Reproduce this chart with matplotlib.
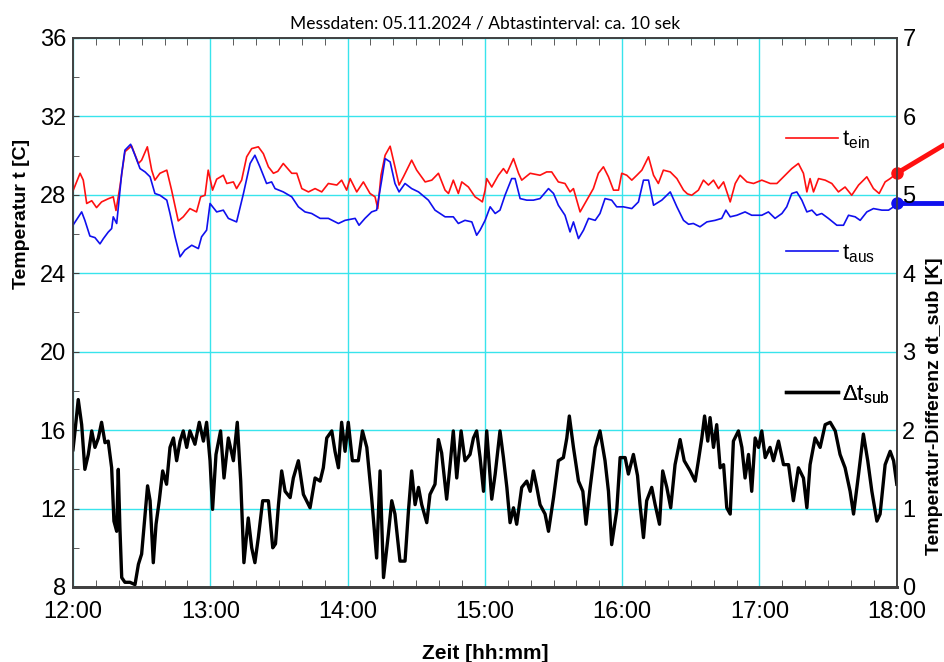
"""
Messdaten 05.11.2024: Vor- und Ruecklauftemperatur plus Temperaturdifferenz.
"""

import matplotlib.pyplot as plt
from matplotlib.ticker import FuncFormatter, MultipleLocator

# ===============================
# Data (minutes after 12:00)
# ===============================

t_ein_min = [
    0, 3.1, 4.5, 6, 8.2, 10.3, 12.5, 15.4, 17.6, 18.8, 20.5, 22.7, 25.6, 28.6, 30,
    32.5, 34.4, 35.8, 38, 41, 43.1, 46, 48.2, 51.1, 54, 55.8, 57.7, 59.1, 61, 62.8,
    65.7, 67.2, 70.1, 71.5, 73.7, 75.9, 78.1, 81, 83.2, 85.4, 87.6, 89.5, 91.9, 95.6,
    97.8, 100, 102.9, 105.8, 108.7, 111.6, 115.3, 117.4, 119.6, 121.1, 124, 126.9,
    129.8, 132, 133.2, 134.6, 136.4, 138.6, 140.7, 142.5, 144.4, 148, 150.2, 153.9,
    156.8, 159.7, 162.6, 164.1, 166.2, 168.4, 169.9, 172.8, 175.7, 177.9, 178.9,
    180.1, 180.8, 183, 185.9, 188.1, 189.6, 192.5, 194.7, 196.1, 199.8, 204.1, 207,
    209.2, 212.1, 215, 217.2, 218.7, 221.6, 224.5, 227.4, 229.6, 231.8, 234, 236.2,
    238.4, 239.8, 242, 244.2, 246.4, 248.6, 251.5, 253.7, 255.8, 258, 261, 263.9,
    266.8, 268.5, 270.4, 273.3, 275.5, 277.7, 279.9, 282.1, 284.3, 287.2, 289.4,
    291.5, 294.5, 297.4, 301, 304.7, 307.6, 311.2, 314.1, 317, 319.2, 320.7, 322.1,
    323.6, 325.8, 328.7, 331.6, 334.5, 337.4, 340.3, 343.3, 346.9, 349.8, 352.3,
    354.9, 357.1, 360,
]
t_ein = [
    28.2, 29.1, 28.75, 27.56, 27.7, 27.35, 27.64, 27.8, 27.9, 27.2, 28.4, 30.2, 30.5,
    29.6, 29.77, 30.45, 29.26, 28.75, 29.1, 29.26, 28.24, 26.67, 26.88, 27.3, 27.13,
    27.9, 27.98, 29.26, 28.24, 28.8, 29.0, 28.58, 28.66, 28.32, 28.75, 29.94, 30.36,
    30.45, 30.1, 29.43, 29.1, 29.2, 29.6, 29.1, 29.1, 28.32, 28.15, 28.32, 28.15,
    28.58, 28.5, 28.75, 28.24, 28.83, 28.15, 28.66, 28.07, 27.9, 27.3, 29.0, 30.02,
    30.48, 29.43, 28.5, 28.92, 29.77, 29.26, 28.66, 28.75, 29.1, 28.24, 28.07, 28.75,
    28.07, 28.66, 28.4, 27.9, 27.73, 27.64, 28.24, 28.83, 28.4, 29.0, 29.34, 29.1,
    29.85, 29.1, 28.75, 29.1, 29.0, 29.17, 29.17, 28.66, 28.58, 28.15, 28.32, 27.13,
    27.73, 28.32, 29.1, 29.43, 28.92, 28.24, 28.24, 29.1, 29.0, 28.75, 29.0, 29.26,
    29.94, 29.0, 28.58, 29.26, 29.17, 28.83, 28.24, 28.05, 27.98, 28.24, 28.75, 28.5,
    28.75, 28.32, 28.66, 27.64, 28.58, 29.0, 28.66, 28.58, 28.75, 28.58, 28.58, 29.0,
    29.34, 29.6, 29.1, 28.15, 28.83, 28.15, 28.83, 28.75, 28.58, 28.15, 28.4, 27.98,
    28.5, 28.92, 28.32, 28.07, 28.66, 28.83, 29.1,
]

t_aus_min = [
    0, 3.8, 5.2, 7.4, 9.6, 11.8, 13.3, 15.4, 16.9, 17.6, 19.1, 21.3, 22.7, 25.2, 27.1,
    29.3, 31.5, 33.7, 35.8, 38, 41, 42.4, 44.6, 46.8, 48.9, 51.9, 54.8, 56.2, 58.4,
    59.9, 62.8, 65.7, 67.9, 71.5, 74.5, 77.4, 79.5, 81.7, 84.6, 86.8, 88.3, 91.9,
    95.6, 98.5, 101.4, 104.3, 108, 111.6, 116, 118.9, 123.3, 125, 127.6, 130.5, 132.7,
    134.9, 136.4, 138.6, 140.7, 142.5, 145.1, 148, 151, 155.3, 158.2, 162.6, 166.2,
    168.4, 171.3, 174.3, 176.4, 177.9, 180.1, 182.3, 184.5, 186.6, 188.8, 191.7,
    193.2, 195.4, 198.3, 201.2, 204.1, 207.8, 210, 212.1, 215, 217.2, 218.7, 220.9,
    223.1, 225.3, 228.2, 230.3, 232.5, 235.4, 237.6, 240.5, 244.2, 247.1, 249.3,
    251.5, 253.7, 257.3, 261, 263.9, 266.8, 269, 271.1, 274, 277, 280.6, 283.5, 285.3,
    287.2, 290.1, 293.7, 296.6, 301, 303.9, 306.8, 309.8, 311.9, 314.1, 316.3, 318.5,
    320.7, 322.9, 325, 327.2, 330.1, 333.8, 336.7, 338.9, 341.8, 344, 346.9, 349.8,
    353.5, 356.4, 358.6, 360,
]
t_aus = [
    26.45, 27.13, 26.7, 25.9, 25.82, 25.5, 25.77, 26.1, 26.28, 26.88, 26.54, 29.1,
    30.28, 30.58, 30.02, 29.34, 29.17, 28.92, 28.07, 27.98, 27.73, 27.05, 25.86,
    24.84, 25.18, 25.43, 25.26, 25.86, 26.2, 27.56, 27.13, 27.22, 26.8, 26.62, 28.07,
    29.6, 30.02, 29.43, 28.58, 28.66, 28.32, 28.15, 27.9, 27.39, 27.13, 27.05, 26.8,
    26.8, 26.54, 26.7, 26.8, 26.45, 26.8, 27.13, 27.22, 28.75, 29.85, 29.68, 28.58,
    28.15, 28.58, 28.32, 28.15, 27.73, 27.22, 26.88, 26.88, 26.54, 26.7, 26.62,
    25.94, 26.2, 26.7, 27.39, 27.05, 27.22, 27.98, 28.83, 28.83, 27.81, 27.73, 27.73,
    27.81, 28.32, 28.07, 27.47, 26.96, 26.11, 26.62, 25.77, 26.2, 26.8, 26.7, 27.05,
    27.81, 27.73, 27.39, 27.39, 27.3, 27.64, 28.75, 28.75, 27.47, 27.73, 28.15, 27.39,
    26.7, 26.5, 26.54, 26.37, 26.62, 26.7, 26.8, 27.22, 26.88, 26.96, 27.13, 26.96,
    26.96, 27.13, 26.8, 27.05, 27.39, 28.07, 28.15, 27.73, 27.13, 27.22, 26.96, 27.05,
    26.8, 26.45, 26.45, 26.96, 26.88, 26.7, 27.13, 27.3, 27.22, 27.22, 27.39, 27.6,
]

dt_min = [
    0, 0.9, 2.3, 3.8, 5.2, 6.7, 8.2, 9.6, 11.1, 12.5, 14, 15.4, 16.9, 17.9, 19.1, 19.8,
    20.5, 21.3, 22.7, 24.9, 27.1, 28.6, 30, 31.5, 32.6, 33.7, 35.1, 36.3, 37.7, 39.2,
    40.9, 42.4, 43.9, 45.3, 46.8, 48.2, 49.7, 51.1, 53.3, 55.2, 57, 58.4, 59.9, 61,
    62.5, 64.5, 66, 67.9, 70.1, 71.8, 73.3, 74.7, 76.6, 78.1, 79.5, 81, 82.9, 85.4,
    87.3, 88.5, 89.8, 91.2, 92.7, 94.9, 96.3, 98.5, 100.7, 103.6, 105.8, 108, 109.4,
    110.9, 113.1, 114.5, 116, 117.4, 118.9, 120.3, 122.1, 124.7, 126.5, 128.4, 130.5,
    132.7, 134.2, 135.7, 137.8, 139.3, 140.7, 142.9, 145.1, 146.6, 148, 149.5, 151,
    152.4, 154.6, 156, 158.2, 159.7, 161.1, 163.3, 164.8, 166.2, 167.7, 169.6, 171.3,
    173.5, 175, 176.4, 177.9, 179.4, 180.8, 183, 184.5, 186.6, 188.1, 189.6, 191,
    192.5, 193.9, 196.1, 198.3, 199.8, 201.2, 202.7, 204.1, 206.3, 207.8, 210, 212.1,
    214.3, 215.8, 216.9, 218.7, 220.9, 222.8, 224.2, 226, 228.2, 230.3, 232.5, 234,
    235.4, 237.6, 239.1, 241.3, 242.7, 244.9, 246.7, 247.8, 249.3, 250.7, 252.9,
    254.4, 256.3, 257.7, 259.5, 261.2, 263.1, 265.3, 267.1, 269.7, 271.9, 273.3,
    274.8, 276, 277.4, 278.4, 279.9, 281.3, 282.8, 284.3, 285.7, 287.2, 288.6, 290.8,
    292.3, 293.7, 295.2, 296.6, 298.1, 299.6, 301, 302.5, 304.6, 306.1, 308.3, 310.5,
    312.7, 314.8, 317, 319.2, 320.7, 322.1, 324.3, 326.5, 328.7, 330.9, 333.1, 335.2,
    337.4, 339.6, 341.1, 343.3, 345.4, 347.3, 349.1, 351.3, 352.7, 354.9, 357.1,
    358.6, 360,
]
dt_sub = [
    1.75, 1.99, 2.39, 2.07, 1.5, 1.69, 1.99, 1.78, 1.9, 2.1, 1.84, 1.86, 1.52, 0.84,
    0.71, 1.5, 0.76, 0.12, 0.06, 0.06, 0.03, 0.29, 0.42, 0.93, 1.29, 1.1, 0.31, 0.8,
    1.1, 1.48, 1.31, 1.78, 1.9, 1.61, 1.86, 1.99, 1.78, 1.99, 1.82, 2.1, 1.86, 2.1,
    1.61, 0.99, 1.69, 1.99, 1.39, 1.9, 1.61, 2.1, 1.35, 0.31, 0.88, 0.5, 0.31, 0.63,
    1.1, 1.1, 0.5, 0.55, 1.05, 1.48, 1.22, 1.14, 1.39, 1.61, 1.18, 1.01, 1.39, 1.35,
    1.52, 1.9, 1.99, 1.73, 1.52, 2.1, 1.73, 2.1, 1.61, 1.61, 1.99, 1.78, 1.14, 0.37,
    1.48, 0.12, 0.67, 1.1, 0.93, 0.33, 0.33, 0.97, 1.48, 1.05, 1.27, 1.05, 0.82, 1.18,
    1.31, 1.88, 1.71, 1.12, 1.56, 1.99, 1.39, 1.99, 1.61, 1.69, 1.9, 1.99, 1.65, 1.22,
    1.99, 1.12, 1.44, 1.99, 1.65, 1.27, 0.82, 1.01, 0.8, 1.27, 1.35, 1.22, 1.48, 1.27,
    1.05, 0.93, 0.71, 1.14, 1.61, 1.65, 1.9, 2.18, 1.78, 1.35, 1.22, 0.8, 1.27, 1.78,
    1.99, 1.61, 1.22, 0.54, 0.97, 1.65, 1.65, 1.44, 1.69, 1.42, 1.05, 0.63, 1.1, 1.27,
    1.05, 0.8, 1.48, 1.27, 1.01, 1.56, 1.88, 1.61, 1.48, 1.35, 1.61, 1.9, 2.18, 1.86,
    2.16, 1.78, 2.07, 1.52, 1.56, 1.01, 0.93, 1.86, 1.99, 1.78, 1.39, 1.69, 1.22, 1.9,
    1.78, 1.99, 1.65, 1.78, 1.61, 1.86, 1.56, 1.56, 1.1, 1.52, 1.39, 1.01, 1.56, 1.9,
    1.78, 2.07, 2.1, 1.99, 1.69, 1.52, 1.22, 0.93, 1.44, 1.95, 1.61, 1.22, 0.84, 0.93,
    1.56, 1.73, 1.61, 1.31,
]

# Werte nach 18:00 (laufen aus dem Diagramm heraus)
tail_min = [360, 380]
t_ein_tail = [29.1, 30.5]
t_aus_tail = [27.6, 27.6]

# ===============================
# Plot
# ===============================

plt.rcParams["font.family"] = ["Liberation Sans", "DejaVu Sans"]
plt.rcParams["mathtext.fontset"] = "custom"
plt.rcParams["mathtext.rm"] = "Liberation Sans"

grid_col = "#38e4ec"
spine_col = "#404040"

fig, ax = plt.subplots(figsize=(9.44, 6.62), dpi=100)
fig.subplots_adjust(left=0.0773, right=0.950, top=0.9426, bottom=0.1133)
ax2 = ax.twinx()

ln_ein, = ax.plot(t_ein_min, t_ein, color="#ff1010", lw=1.2, zorder=3)
ln_aus, = ax.plot(t_aus_min, t_aus, color="#1010ee", lw=1.2, zorder=3)

ax.plot(tail_min, t_ein_tail, color="#ff1010", lw=3.5, marker="o", ms=8,
        markevery=[0], clip_on=False, zorder=5)
ax.plot(tail_min, t_aus_tail, color="#1010ee", lw=3.5, marker="o", ms=8,
        markevery=[0], clip_on=False, zorder=5)

ln_dt, = ax2.plot(dt_min, dt_sub, color="black", lw=2.4)

ax.set_xlim(0, 360)
ax.set_ylim(8, 36)
ax2.set_ylim(0, 7)

ax.xaxis.set_major_locator(MultipleLocator(60))
ax.xaxis.set_minor_locator(MultipleLocator(10))
ax.xaxis.set_major_formatter(
    FuncFormatter(lambda m, pos: f"{12 + int(m // 60)}:{int(m % 60):02d}"))
ax.yaxis.set_major_locator(MultipleLocator(4))
ax.yaxis.set_minor_locator(MultipleLocator(2))
ax2.yaxis.set_major_locator(MultipleLocator(1))

ax.grid(True, which="major", color=grid_col, lw=1)
ax.set_axisbelow(True)

ax.tick_params(axis="x", which="both", direction="in", top=True, labelsize=17,
               pad=10, color=spine_col)
ax.tick_params(axis="x", which="major", length=0)
ax.tick_params(axis="x", which="minor", length=5)
ax.tick_params(axis="y", which="both", direction="in", length=4, labelsize=17,
               pad=5, color=spine_col)
ax2.tick_params(axis="y", length=0, labelsize=17, pad=4)

for a in (ax, ax2):
    for s in a.spines.values():
        s.set_color(spine_col)
        s.set_linewidth(1.2)
    a.spines["bottom"].set_linewidth(2)

ax.set_title("Messdaten: 05.11.2024 / Abtastinterval: ca. 10 sek",
             fontsize=12.5, family="Lato", pad=7)
ax.set_xlabel("Zeit [hh:mm]", fontsize=15, fontweight="bold", labelpad=15)
ax.set_ylabel("Temperatur t [C]", fontsize=14, fontweight="bold")
ax.yaxis.set_label_coords(-0.052, 0.68)
ax2.set_ylabel("Temperatur-Differenz dt_sub [K]", fontsize=14, fontweight="bold")
ax2.yaxis.set_label_coords(1.035, 0.33)

# einzelne Legendeneintraege rechts im Diagramm
for handle, label, y in [
    (ln_ein, r"$\mathrm{t_{ein}}$", 0.814),
    (ln_aus, r"$\mathrm{t_{aus}}$", 0.608),
    (ln_dt, r"$\mathrm{\Delta t_{sub}}$", 0.351),
]:
    leg = ax2.legend([handle], [label], loc="center left",
                     bbox_to_anchor=(0.866, y), frameon=False, fontsize=16,
                     handlelength=2.3, handletextpad=0.2, borderpad=0,
                     borderaxespad=0)
    ax2.add_artist(leg)

plt.savefig("out.png", dpi=100)
